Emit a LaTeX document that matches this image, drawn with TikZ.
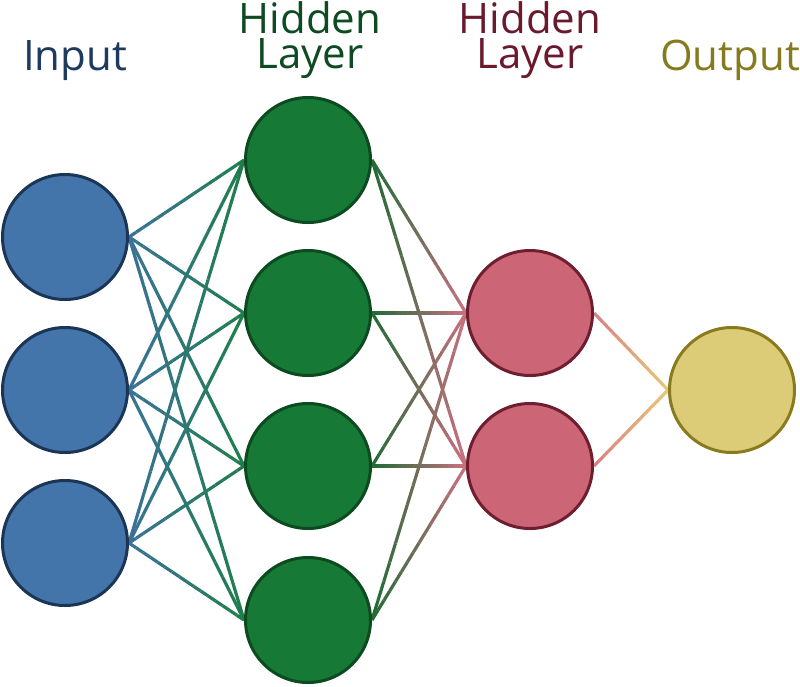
\documentclass[tikz,border=0pt]{standalone}
\usepackage{fontspec}
\setmainfont{Open Sans}
\usepackage{tikz}
\usetikzlibrary{calc, backgrounds}
\definecolor{inpfill}{HTML}{4475AA}
\definecolor{inpline}{HTML}{1B3556}
\definecolor{inptext}{HTML}{1E3A5F}
\definecolor{hidafill}{HTML}{167A36}
\definecolor{hidaline}{HTML}{0C4A1F}
\definecolor{hidatext}{HTML}{0E4A22}
\definecolor{hidbfill}{HTML}{CC6677}
\definecolor{hidbline}{HTML}{6E1E2E}
\definecolor{hidbtext}{HTML}{6B1A2E}
\definecolor{outfill}{HTML}{DDCC77}
\definecolor{outline}{HTML}{8A7A1E}
\definecolor{outtext}{HTML}{857A1E}
\definecolor{linkblue}{HTML}{3A7297}
\definecolor{linkgreen}{HTML}{1E7E4A}
\definecolor{linkdkgreen}{HTML}{1F6B35}
\definecolor{linkpink}{HTML}{CC7080}
\definecolor{linkrose}{HTML}{D88080}
\definecolor{linkgold}{HTML}{E6C878}

% connector whose colour runs from #3 to #4
\newcommand{\gradlink}[4]{%
  \foreach \k in {1,...,16}{%
    \pgfmathsetmacro{\pa}{(\k-1)/16}%
    \pgfmathsetmacro{\pb}{\k/16}%
    \pgfmathtruncatemacro{\mix}{100*(\k-0.5)/16}%
    \draw[link, #4!\mix!#3] ($(#1.east)!\pa!(#2.west)$) -- ($(#1.east)!\pb!(#2.west)$);
  }}

\begin{document}
\begin{tikzpicture}[x=1pt, y=-1pt,
  neuron/.style 2 args={circle, draw=#1, fill=#2, line width=3pt,
    minimum size=125pt, inner sep=0pt},
  layername/.style={text=#1, font=\fontsize{42}{35}\selectfont,
    align=center, anchor=base},
  link/.style={line width=3.2pt}
]
\useasboundingbox (0,0) rectangle (800,686);

% labels (base = last line)
\node[layername=inptext]  (tin)  at (75,70)  {Input};
\node[layername=hidatext] (thida) at (310,68) {Hidden\\Layer};
\node[layername=hidbtext] (thidb) at (530,68) {Hidden\\Layer};
\node[layername=outtext]  (tout) at (730,70) {Output};

\node[neuron={inpline}{inpfill}] (in1) at (65,237) {};
\node[neuron={inpline}{inpfill}] (in2) at (65,390) {};
\node[neuron={inpline}{inpfill}] (in3) at (65,543) {};

\node[neuron={hidaline}{hidafill}] (ha1) at (308,160) {};
\node[neuron={hidaline}{hidafill}] (ha2) at (308,313) {};
\node[neuron={hidaline}{hidafill}] (ha3) at (308,466) {};
\node[neuron={hidaline}{hidafill}] (ha4) at (308,620) {};

\node[neuron={hidbline}{hidbfill}] (hb1) at (530,313) {};
\node[neuron={hidbline}{hidbfill}] (hb2) at (530,466) {};

\node[neuron={outline}{outfill}] (out) at (732,390) {};

% Connectors behind the neurons
\begin{scope}[on background layer]
  \foreach \i in {1,2,3}
    \foreach \j in {1,...,4}
      {\gradlink{in\i}{ha\j}{linkblue}{linkgreen}}
  \foreach \i in {1,...,4}
    \foreach \j in {1,2}
      {\gradlink{ha\i}{hb\j}{linkdkgreen}{linkpink}}
  \foreach \i in {1,2}
    {\gradlink{hb\i}{out}{linkrose}{linkgold}}
\end{scope}
\end{tikzpicture}
\end{document}
